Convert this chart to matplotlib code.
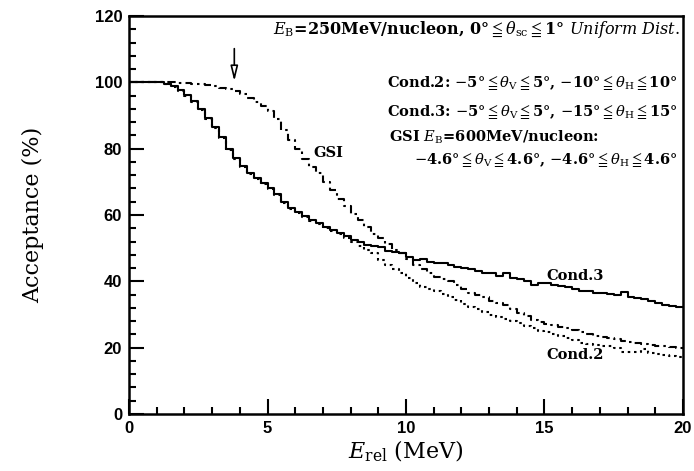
import numpy as np
import matplotlib
matplotlib.use("Agg")
import matplotlib.pyplot as plt
from matplotlib.ticker import MultipleLocator

plt.rcParams['mathtext.fontset'] = 'dejavuserif'

# histogram bins of 0.25 MeV (bin start -> acceptance %)
bin_edges = np.arange(0, 20.01, 0.25)

cond3 = [100, 100, 100, 100, 100, 99.6, 98.8, 97.7, 96.3, 94.4,
         92.0, 89.3, 86.5, 83.4, 80.0, 77.2, 74.8, 72.8, 71.2, 69.6,
         68.0, 66.2, 64.0, 62.0, 61.0, 59.8, 58.6, 57.5, 56.4, 55.6,
         54.6, 53.8, 52.6, 52.0, 51.0, 50.6, 50.4, 49.0, 48.8, 48.6,
         47.4, 46.3, 46.8, 45.8, 45.6, 45.5, 44.8, 44.4, 44.0, 43.8,
         43.2, 42.6, 42.4, 41.6, 42.4, 41.0, 40.6, 40.2, 38.8, 39.6,
         39.4, 39.0, 38.6, 38.2, 37.6, 37.2, 37.0, 36.6, 36.4, 36.2,
         35.8, 36.8, 35.4, 35.0, 34.6, 34.0, 33.4, 32.8, 32.6, 32.2]

cond2 = [100, 100, 100, 100, 100, 99.5, 98.6, 97.5, 96.0, 94.1,
         91.7, 89.0, 86.2, 83.1, 79.7, 76.9, 74.5, 72.5, 70.9, 69.3,
         67.7, 65.9, 63.7, 61.7, 60.7, 59.5, 58.3, 57.2, 56.1, 55.2,
         54.2, 53.2, 51.8, 50.6, 49.6, 48.6, 46.4, 45.0, 43.8, 42.6,
         41.0, 39.6, 38.4, 37.6, 37.0, 36.2, 35.2, 34.4, 33.2, 32.4,
         31.6, 30.8, 30.0, 29.2, 28.6, 28.0, 27.4, 26.6, 26.0, 25.0,
         24.6, 24.0, 23.4, 22.8, 22.4, 21.4, 21.2, 20.8, 20.6, 20.4,
         19.8, 18.8, 18.6, 18.8, 19.6, 18.4, 18.0, 17.8, 17.6, 17.2]

gsi = [100, 100, 100, 100, 100, 100, 100, 99.9, 99.8, 99.6,
       99.4, 99.1, 98.8, 98.4, 97.9, 97.3, 96.4, 95.4, 94.2, 92.8,
       91.3, 89.0, 85.6, 82.6, 79.8, 77.0, 74.6, 72.6, 70.0, 67.6,
       64.8, 62.6, 60.4, 58.4, 56.4, 54.4, 53.0, 51.2, 49.6, 48.4,
       46.8, 44.8, 43.8, 42.6, 41.4, 40.8, 40.0, 38.8, 37.6, 36.6,
       36.0, 35.2, 34.2, 33.4, 32.8, 31.8, 30.6, 29.6, 28.4, 27.8,
       27.2, 26.8, 26.2, 25.8, 25.2, 24.6, 24.0, 23.6, 23.2, 22.8,
       22.6, 22.0, 21.6, 21.4, 21.0, 20.8, 20.6, 20.4, 20.2, 19.8]

arrow_E = 3.8

fig = plt.figure(figsize=(6.94, 4.71), dpi=100)
ax = fig.add_axes([0.186, 0.121, 0.798, 0.845])

def steps(vals):
    return np.append(vals, vals[-1])

ax.plot(bin_edges, steps(cond3), drawstyle='steps-post', color='black', lw=1.5)
ax.plot(bin_edges, steps(cond2), drawstyle='steps-post', color='black', lw=1.5,
        dashes=(1.2, 1.8))
ax.plot(bin_edges, steps(gsi), drawstyle='steps-post', color='black', lw=1.5,
        dashes=(4, 2, 1.2, 2))

ax.set_xlim(0, 20)
ax.set_ylim(0, 120)
ax.xaxis.set_major_locator(MultipleLocator(5))
ax.xaxis.set_minor_locator(MultipleLocator(1))
ax.yaxis.set_major_locator(MultipleLocator(20))
ax.yaxis.set_minor_locator(MultipleLocator(4))
ax.tick_params(which='both', direction='in', top=False, right=False, width=1.5)
ax.tick_params(which='major', length=11, labelsize=12, pad=5)
ax.tick_params(which='minor', length=5)
for lab in ax.get_xticklabels() + ax.get_yticklabels():
    lab.set_fontweight('bold')
    lab.set_family('Liberation Sans')
for sp in ax.spines.values():
    sp.set_linewidth(1.8)

ax.set_ylabel('Acceptance (%)', family='DejaVu Serif', fontsize=16, labelpad=36)
ax.set_xlabel(r'$E_{\rm rel}$ (MeV)', family='DejaVu Serif', fontsize=16, labelpad=2)

# arrow marking GSI
ax.annotate('', xy=(arrow_E, 99.5), xytext=(arrow_E, 111),
            arrowprops=dict(arrowstyle='-|>,head_width=0.22,head_length=0.9',
                            fc='white', ec='black', lw=1.2))

tkw = dict(family='DejaVu Serif', fontweight='bold', fontsize=10.5)
ax.text(19.9, 115.8,
        r'$E_{\rm B}$=250MeV/nucleon, 0°$\leqq$$\theta_{\rm sc}$$\leqq$1° $Uniform\ Dist.$',
        ha='right', va='center', family='DejaVu Serif', fontweight='bold', fontsize=11.5)
ax.text(19.8, 99.8,
        r'Cond.2: $-$5°$\leqq$$\theta_{\rm V}$$\leqq$5°, $-$10°$\leqq$$\theta_{\rm H}$$\leqq$10°',
        ha='right', va='center', **tkw)
ax.text(19.8, 91.0,
        r'Cond.3: $-$5°$\leqq$$\theta_{\rm V}$$\leqq$5°, $-$15°$\leqq$$\theta_{\rm H}$$\leqq$15°',
        ha='right', va='center', **tkw)
ax.text(9.4, 83.5, r'GSI $E_{\rm B}$=600MeV/nucleon:', ha='left', va='center', **tkw)
ax.text(19.8, 76.6,
        r'$-$4.6°$\leqq$$\theta_{\rm V}$$\leqq$4.6°, $-$4.6°$\leqq$$\theta_{\rm H}$$\leqq$4.6°',
        ha='right', va='center', **tkw)

ax.text(7.2, 78.7, 'GSI', ha='center', va='center', **tkw)
ax.text(16.1, 41.5, 'Cond.3', ha='center', va='center', **tkw)
ax.text(16.1, 17.8, 'Cond.2', ha='center', va='center', **tkw)

fig.savefig('out.png', dpi=100)
